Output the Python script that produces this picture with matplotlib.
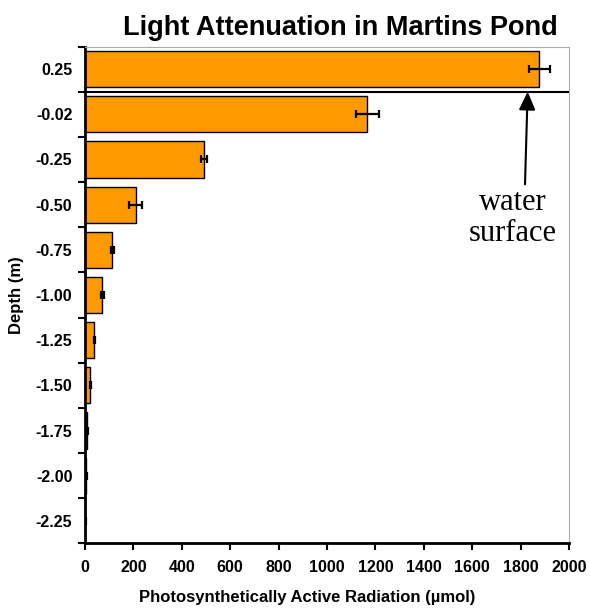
import matplotlib
matplotlib.use("Agg")
import matplotlib.pyplot as plt
import numpy as np

depths = ["0.25", "-0.02", "-0.25", "-0.50", "-0.75", "-1.00",
          "-1.25", "-1.50", "-1.75", "-2.00", "-2.25"]
par = [1877, 1167, 493, 209, 113, 72, 39, 22, 10, 6, 2]
par_err = [43, 46, 12, 26, 5, 5, 3, 3, 2, 2, 1]

plt.rcParams["font.family"] = ["Liberation Sans", "DejaVu Sans"]

fig = plt.figure(figsize=(5.9, 6.09), dpi=100)
ax = fig.add_axes([0.144, 0.1076, 0.8205, 0.816])

y = np.arange(len(depths))
ax.barh(y, par, height=0.8, color="#FF9900", edgecolor="black", linewidth=1,
        xerr=par_err, error_kw=dict(ecolor="black", elinewidth=1.6,
                                    capsize=3, capthick=1.6))
ax.set_ylim(len(depths) - 0.5, -0.5)
ax.set_xlim(0, 2000)
ax.set_xticks(np.arange(0, 2001, 200))
ax.set_yticks(y)
ax.set_yticklabels(depths, fontweight="bold", fontsize=11.5)
ax.set_yticks(np.arange(-0.5, len(depths), 1), minor=True)
ax.tick_params(axis="y", which="major", length=0, pad=9)
ax.tick_params(axis="y", which="minor", length=5, width=1.5, direction="out")
ax.tick_params(axis="x", length=5, width=1.5, direction="out", labelsize=11.5,
               pad=7)
for lbl in ax.get_xticklabels():
    lbl.set_fontweight("bold")

for side in ("left", "bottom"):
    ax.spines[side].set_linewidth(2)
for side in ("top", "right"):
    ax.spines[side].set_color("#aaaaaa")
    ax.spines[side].set_linewidth(0.8)

# water surface line and arrow
ax.axhline(0.5, xmin=0, xmax=0.997, color="black", linewidth=1.5)
ax.annotate("", xy=(1829, 0.5), xytext=(1818, 2.55),
            arrowprops=dict(arrowstyle="-|>,head_width=0.5,head_length=1.1",
                            color="black", lw=1.5, shrinkA=0, shrinkB=0))
ax.text(1766, 3.3, "water\nsurface", ha="center", va="center",
        fontsize=22, family=["Liberation Serif", "DejaVu Serif"],
        linespacing=1.08)

ax.set_title("Light Attenuation in Martins Pond", fontsize=19.5,
             fontweight="bold", pad=8, x=0.527)
ax.set_xlabel("Photosynthetically Active Radiation (\u00b5mol)",
              fontsize=12, fontweight="bold")
ax.xaxis.set_label_coords(0.46, -0.094)
ax.set_ylabel("Depth (m)", fontsize=12, fontweight="bold")
ax.yaxis.set_label_coords(-0.125, 0.5)

fig.savefig("out.png", dpi=100)
